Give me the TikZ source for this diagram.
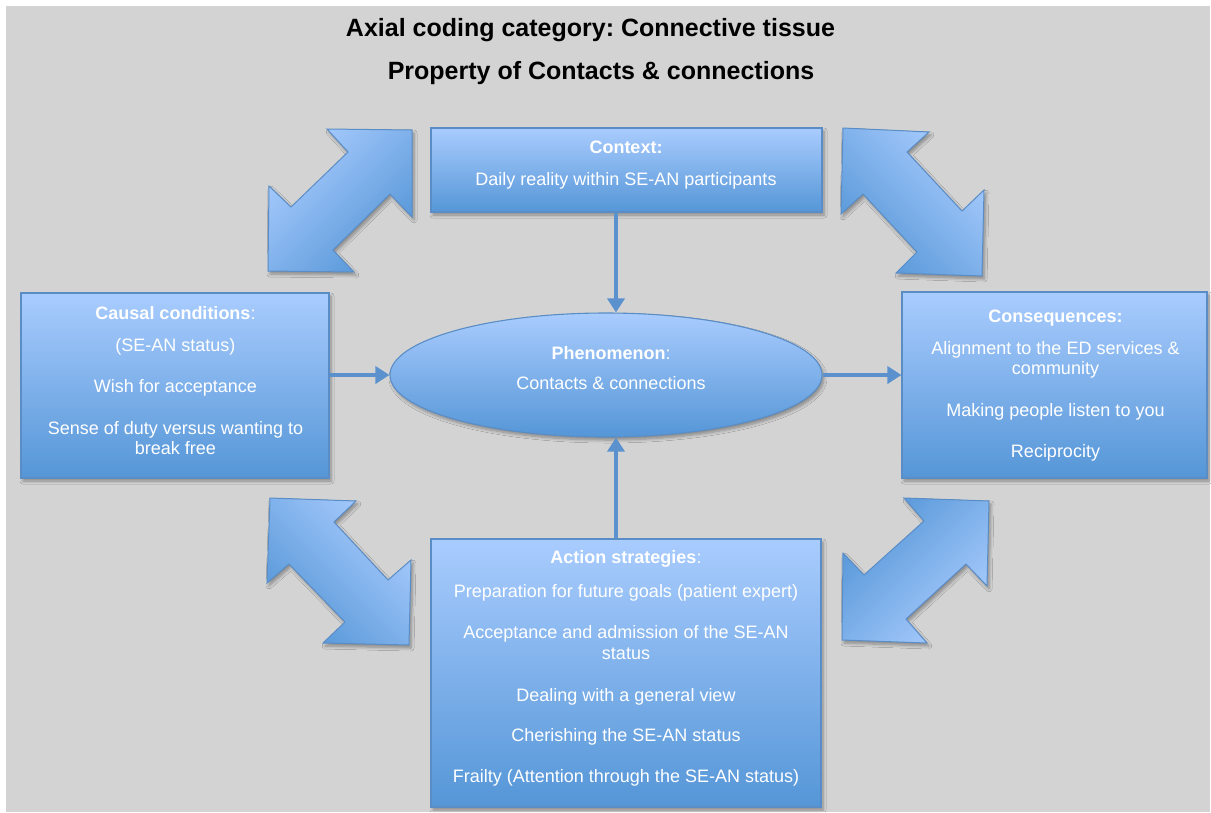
\documentclass[tikz,border=0pt]{standalone}
\usepackage{fontspec}
\setmainfont{Liberation Sans}
\usetikzlibrary{arrows.meta,shapes.geometric,shadows.blur}
\frenchspacing

\definecolor{bgGray}{HTML}{D3D3D3}
\definecolor{boxTop}{HTML}{A9CCFE}
\definecolor{boxBot}{HTML}{5596D7}
\definecolor{boxLine}{HTML}{5A8DC6}
\definecolor{connBlue}{HTML}{5B92CD}

\tikzset{
  softshadow/.style={blur shadow={shadow xshift=2pt, shadow yshift=-3pt,
      shadow blur radius=3pt, shadow blur steps=6, shadow opacity=35}},
  box/.style={rectangle, draw=boxLine, line width=1.1pt,
      top color=boxTop, bottom color=boxBot, softshadow, inner sep=0pt},
  phenom/.style={ellipse, draw=boxLine, line width=1.1pt,
      top color=boxTop, bottom color=boxBot, softshadow, inner sep=0pt},
  boxtext/.style={text=white, align=center, inner sep=0pt,
      font=\fontsize{18}{20.5}\selectfont},
  titletext/.style={inner sep=0pt, font=\fontsize{25}{30}\selectfont\bfseries},
  conn/.style={draw=connBlue, line width=4.5pt,
      -{Triangle[width=17pt,length=14pt]}},
  blockarrow/.style={draw=boxLine, line width=1pt, softshadow, line join=miter}
}

\begin{document}
\begin{tikzpicture}[x=1pt,y=-1pt]
  % page and grey panel
  \useasboundingbox (0,0) rectangle (1211,812);
  \fill[white] (0,0) rectangle (1211,812);
  \fill[bgGray] (6,6) rectangle (1210,812);

  % headings
  \node[titletext] (title1) at (590.5,30) {Axial coding category: Connective tissue};
  \node[titletext] (title2) at (601,73) {Property of Contacts \& connections};

  % diagonal two-headed block arrows
  \path[blockarrow, top color=boxTop, bottom color=boxBot, shading angle=45]
    (412,130) -- (412,217) -- (390,194) -- (333,250) -- (354,272) -- (268,271)
    -- (269,186) -- (291,207) -- (348,152) -- (327,129) -- cycle;
  \path[blockarrow, top color=boxTop, bottom color=boxBot, shading angle=-45]
    (843,128) -- (929,132) -- (907,152) -- (962,211) -- (984,190) -- (982,276)
    -- (896,273) -- (917,252) -- (863,194) -- (841,214) -- cycle;
  \path[blockarrow, top color=boxTop, bottom color=boxBot, shading angle=-45]
    (270,498) -- (356,501) -- (334,522) -- (388,580) -- (411,560) -- (409,645)
    -- (323,643) -- (345,622) -- (289,564) -- (267,583) -- cycle;
  \path[blockarrow, top color=boxTop, bottom color=boxBot, shading angle=-135]
    (989,501) -- (904,498) -- (924,521) -- (864,575) -- (843,553) -- (842,640)
    -- (927,643) -- (906,619) -- (966,564) -- (987,586) -- cycle;

  % boxes
  \node[box, minimum width=391pt, minimum height=84pt] (ctx) at (626.5,170) {};
  \node[box, minimum width=308pt, minimum height=185pt] (causal) at (175,385.5) {};
  \node[box, minimum width=305pt, minimum height=186pt] (cons) at (1054.5,385) {};
  \node[box, minimum width=390pt, minimum height=268pt] (act) at (626,673) {};
  \node[phenom, minimum width=432pt, minimum height=124pt] (phen) at (606,375) {};

  % box texts
  \node[boxtext] (ctxtext) at (626,165)
    {\textbf{Context:}\\[11pt]Daily reality within SE-AN participants};
  \node[boxtext] (causaltext) at (175.5,381)
    {\textbf{Causal conditions}:\\[11pt](SE-AN status)\\[21pt]Wish for acceptance\\[21pt]%
     Sense of duty versus wanting to\\break free};
  \node[boxtext] (constext) at (1055.5,386)
    {\textbf{Consequences:}\\[11pt]Alignment to the ED services \&\\community\\[21pt]%
     Making people listen to you\\[21pt]Reciprocity};
  \node[boxtext] (phentext) at (611,368)
    {\textbf{Phenomenon}:\\[10pt]Contacts \& connections};
  \node[boxtext] (acttext) at (626,668.5)
    {\textbf{Action strategies}:\\[13pt]Preparation for future goals (patient expert)\\[21pt]%
     Acceptance and admission of the SE-AN\\status\\[22pt]%
     Dealing with a general view\\[19pt]Cherishing the SE-AN status\\[21pt]%
     Frailty (Attention through the SE-AN status)};

  % connectors into the phenomenon
  \coordinate (vx) at (616,0);
  \draw[conn] (ctx.south -| vx) -- (phen.north -| vx);
  \draw[conn] (act.north -| vx) -- (phen.south -| vx);
  \draw[conn] (causal.east |- phen.west) -- (phen.west);
  \draw[conn] (phen.east) -- (cons.west |- phen.east);
\end{tikzpicture}
\end{document}
